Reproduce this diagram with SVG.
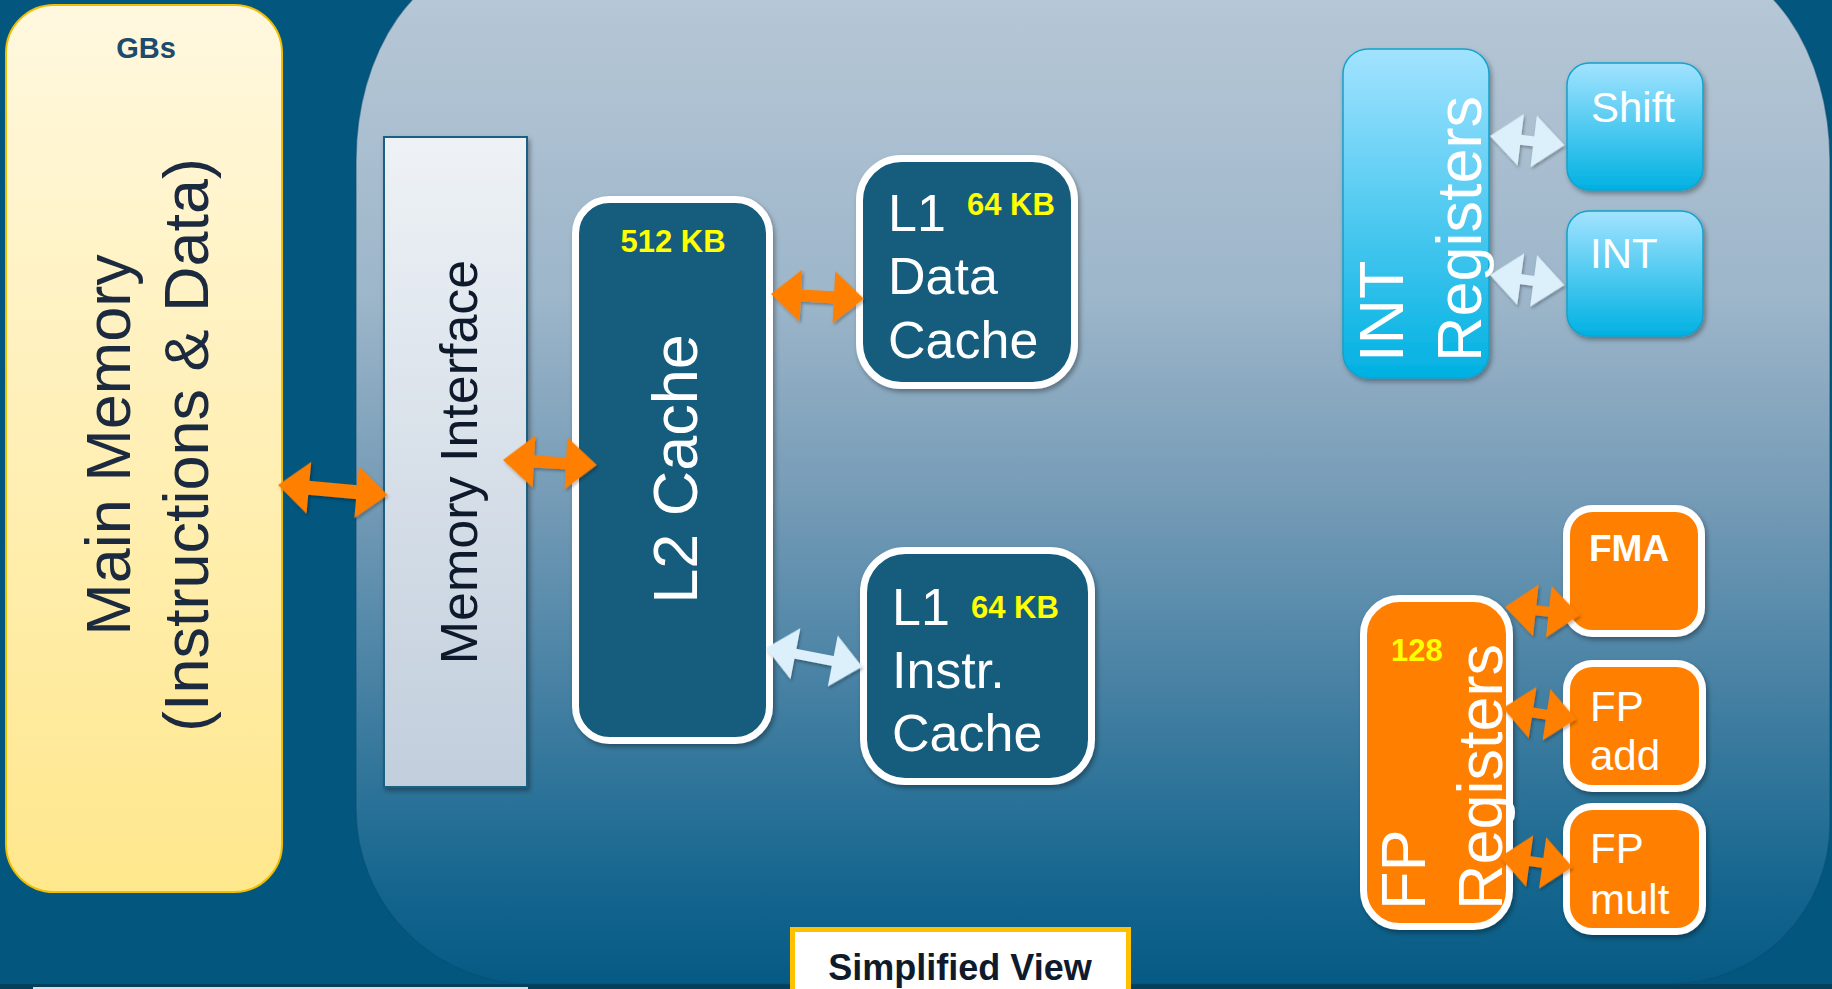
<svg xmlns="http://www.w3.org/2000/svg" width="1832" height="989" viewBox="0 0 1832 989">
  <defs>
    <linearGradient id="gContainer" gradientUnits="userSpaceOnUse" x1="0" y1="0" x2="0" y2="985">
      <stop offset="0" stop-color="#B6C7D6"/>
      <stop offset="0.3" stop-color="#9DB6CA"/>
      <stop offset="0.5" stop-color="#769CB7"/>
      <stop offset="0.72" stop-color="#417EA1"/>
      <stop offset="0.9" stop-color="#15668F"/>
      <stop offset="1" stop-color="#055A84"/>
    </linearGradient>
    <linearGradient id="gMem" x1="0" y1="0" x2="0" y2="1">
      <stop offset="0" stop-color="#FFF8DF"/>
      <stop offset="1" stop-color="#FFE78C"/>
    </linearGradient>
    <linearGradient id="gIface" x1="0" y1="0" x2="0" y2="1">
      <stop offset="0" stop-color="#EEF2F6"/>
      <stop offset="1" stop-color="#C1CEDC"/>
    </linearGradient>
    <linearGradient id="gInt" x1="0" y1="0" x2="0" y2="1">
      <stop offset="0" stop-color="#A2E3FF"/>
      <stop offset="1" stop-color="#00B1E2"/>
    </linearGradient>
    <filter id="shadow" x="-20%" y="-20%" width="140%" height="140%">
      <feDropShadow dx="2" dy="3" stdDeviation="2.5" flood-color="#000" flood-opacity="0.35"/>
    </filter>
    <filter id="ashadow" x="-20%" y="-40%" width="140%" height="180%">
      <feDropShadow dx="1.5" dy="2" stdDeviation="1.5" flood-color="#000" flood-opacity="0.3"/>
    </filter>
    <style>
      .sans { font-family: "Liberation Sans", Arial, sans-serif; }
      .bold { font-weight: bold; }
      .white { fill: #FFFFFF; }
      .kb { fill: #FFFF00; font-weight: bold; font-size: 31px; }
      .cache { fill: #155B7C; stroke: #FFFFFF; stroke-width: 7; filter: url(#shadow); }
      .fpbox { fill: #FF7F00; stroke: #FFFFFF; stroke-width: 7; filter: url(#shadow); }
      .intbox { fill: url(#gInt); stroke: #12A2CC; stroke-width: 1.5; filter: url(#shadow); }
      .orange { fill: #FF7F00; filter: url(#ashadow); }
      .light { fill: #DCF0FB; filter: url(#ashadow); }
    </style>
  </defs>

  <!-- slide background -->
  <rect x="0" y="0" width="1832" height="989" fill="#03567E"/>
  <rect x="0" y="984" width="1832" height="5" fill="#063F5C"/>
  <rect x="33" y="987" width="495" height="2" fill="#D6DEE6"/>

  <!-- processor area -->
  <path id="chip" d="M356,160 A140 200 0 0 1 496,-40 L1690,-40 A140 200 0 0 1 1830,160 L1830,824 A160 160 0 0 1 1670,984 L531,984 A175 175 0 0 1 356,809 Z" fill="url(#gContainer)" stroke="#0A4D72" stroke-opacity="0.5" stroke-width="1.5"/>

  <g id="main-memory">
    <rect x="6" y="5" width="276" height="887" rx="48" fill="url(#gMem)" stroke="#F2BE00" stroke-width="2"/>
    <text class="sans bold" x="146" y="58" font-size="29" fill="#1D4B6C" text-anchor="middle">GBs</text>
    <g class="sans" font-size="63" fill="#1B2A3F" text-anchor="middle">
      <text transform="translate(130,445) rotate(-90)">Main Memory</text>
      <text transform="translate(208,445) rotate(-90)">(Instructions &amp; Data)</text>
    </g>
  </g>

  <g id="memory-interface">
    <rect x="384" y="137" width="143" height="650" fill="url(#gIface)" stroke="#1E5E80" stroke-width="2" filter="url(#shadow)"/>
    <text class="sans" transform="translate(477,462) rotate(-90)" font-size="52" fill="#0E1A2C" text-anchor="middle">Memory Interface</text>
  </g>

  <g id="l2-cache">
    <rect class="cache" x="575.5" y="199.5" width="194" height="541" rx="34"/>
    <text class="sans kb" x="673" y="252" text-anchor="middle">512 KB</text>
    <text class="sans white" transform="translate(697,469) rotate(-90)" font-size="63" text-anchor="middle">L2 Cache</text>
  </g>

  <g id="l1-data-cache">
    <rect class="cache" x="859.5" y="158.5" width="215" height="227" rx="42"/>
    <g class="sans white" font-size="52">
      <text x="888" y="231">L1</text>
      <text x="888" y="294">Data</text>
      <text x="888" y="358">Cache</text>
    </g>
    <text class="sans kb" x="967" y="215">64 KB</text>
  </g>

  <g id="l1-instr-cache">
    <rect class="cache" x="863.5" y="550.5" width="228" height="231" rx="42"/>
    <g class="sans white" font-size="52">
      <text x="892" y="625">L1</text>
      <text x="892" y="688">Instr.</text>
      <text x="892" y="751">Cache</text>
    </g>
    <text class="sans kb" x="971" y="618">64 KB</text>
  </g>

  <g id="int-registers">
    <rect class="intbox" x="1343" y="49" width="146" height="329" rx="25"/>
    <g class="sans white" font-size="63">
      <text transform="translate(1403,362) rotate(-90)">INT</text>
      <text transform="translate(1481,362) rotate(-90)">Registers</text>
    </g>
  </g>

  <g id="shift-unit">
    <rect class="intbox" x="1567" y="63" width="136" height="127" rx="22"/>
    <text class="sans white" x="1591" y="122" font-size="42">Shift</text>
  </g>

  <g id="int-unit">
    <rect class="intbox" x="1567" y="211" width="136" height="125" rx="22"/>
    <text class="sans white" x="1590" y="268" font-size="42">INT</text>
  </g>

  <g id="fp-registers">
    <rect class="fpbox" x="1363.5" y="598.5" width="146" height="328" rx="36"/>
    <text class="sans kb" x="1391" y="661">128</text>
    <g class="sans white" font-size="63">
      <text transform="translate(1425,910) rotate(-90)">FP</text>
      <text transform="translate(1502,910) rotate(-90)">Registers</text>
    </g>
  </g>

  <g id="fma-unit">
    <rect class="fpbox" x="1566.5" y="508.5" width="135" height="125" rx="26"/>
    <text class="sans bold white" x="1589" y="561" font-size="37">FMA</text>
  </g>

  <g id="fp-add-unit">
    <rect class="fpbox" x="1566.5" y="663.5" width="136" height="125" rx="26"/>
    <g class="sans white" font-size="42">
      <text x="1590" y="721">FP</text>
      <text x="1590" y="770">add</text>
    </g>
  </g>

  <g id="fp-mult-unit">
    <rect class="fpbox" x="1566.5" y="806.5" width="136" height="125" rx="26"/>
    <g class="sans white" font-size="42">
      <text x="1590" y="863">FP</text>
      <text x="1590" y="914">mult</text>
    </g>
  </g>

  <g id="connectors">
    <!-- memory hierarchy links -->
    <path class="orange" transform="translate(278,485) rotate(5.2)" d="M0,0 L31,-26 L31,-7 L79,-7 L79,-26 L110,0 L79,26 L79,7 L31,7 L31,26 Z"/>
    <path class="orange" transform="translate(503,460) rotate(3)" d="M0,0 L31,-26 L31,-6 L63,-6 L63,-26 L94,0 L63,26 L63,6 L31,6 L31,26 Z"/>
    <path class="orange" transform="translate(771,294) rotate(3)" d="M0,0 L30,-26 L30,-6 L63,-6 L63,-26 L93,0 L63,26 L63,6 L30,6 L30,26 Z"/>
    <path class="light" transform="translate(766,648) rotate(11)" d="M0,0 L30,-26 L30,-5 L68,-5 L68,-26 L98,0 L68,26 L68,5 L30,5 L30,26 Z"/>
    <!-- integer datapath -->
    <path class="light" transform="translate(1490,136) rotate(7)" d="M0,0 L31,-26 L31,-5 L44,-5 L44,-26 L75,0 L44,26 L44,5 L31,5 L31,26 Z"/>
    <path class="light" transform="translate(1490,275) rotate(7.7)" d="M0,0 L31,-26 L31,-5 L44,-5 L44,-26 L75,0 L44,26 L44,5 L31,5 L31,26 Z"/>
    <!-- floating point datapath -->
    <path class="orange" transform="translate(1505,607) rotate(6.2)" d="M0,0 L31,-26 L31,-5 L44,-5 L44,-26 L75,0 L44,26 L44,5 L31,5 L31,26 Z"/>
    <path class="orange" transform="translate(1503,708) rotate(8.7)" d="M0,0 L30,-26 L30,-5 L44,-5 L44,-26 L74,0 L44,26 L44,5 L30,5 L30,26 Z"/>
    <path class="orange" transform="translate(1500,857) rotate(7.9)" d="M0,0 L30,-26 L30,-5 L43,-5 L43,-26 L73,0 L43,26 L43,5 L30,5 L30,26 Z"/>
  </g>

  <g id="caption">
    <rect x="792.5" y="929.5" width="336" height="70" fill="#FFFFFF" stroke="#FFC000" stroke-width="5"/>
    <text class="sans bold" x="960" y="980" font-size="36" fill="#0F1B2D" text-anchor="middle">Simplified View</text>
  </g>
</svg>
